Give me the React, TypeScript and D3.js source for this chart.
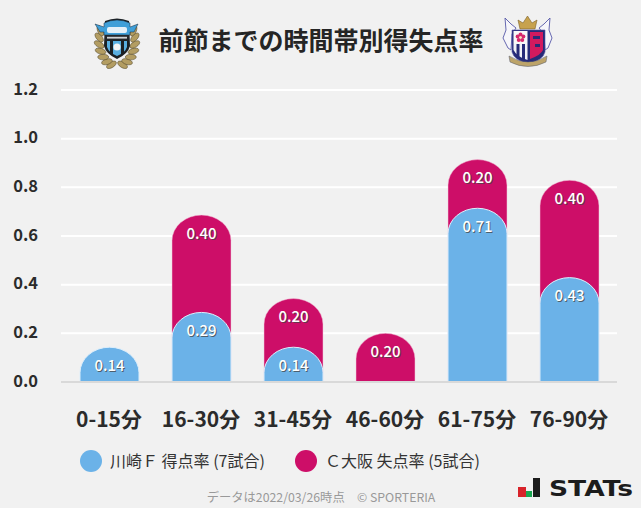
import React from "react";
import * as d3 from "d3";

const categories = ["0-15分", "16-30分", "31-45分", "46-60分", "61-75分", "76-90分"];
const scored = [0.143, 0.286, 0.143, 0, 0.714, 0.429];
const conceded = [0, 0.4, 0.2, 0.2, 0.2, 0.4];
const yTicks = [0, 0.2, 0.4, 0.6, 0.8, 1.0, 1.2];
const title = "前節までの時間帯別得失点率";
const legendLabels = ["川崎Ｆ 得点率 (7試合)", "Ｃ大阪 失点率 (5試合)"];
const footer = "データは2022/03/26時点　© SPORTERIA";

const BLUE = "#6bb2e8";
const RED = "#cd0e68";
const FONT = "'Noto Sans CJK JP','Noto Sans',sans-serif";

const y = d3.scaleLinear().domain([0, 1.2]).range([382, 90]);
const x = d3.scaleBand().domain(categories).range([61, 618]).paddingInner(33 / 92).paddingOuter(19 / 92);

function barPath(cx: number, w: number, top: number, bottom: number) {
  const rx = w / 2;
  const ry = Math.min(25.5, bottom - top);
  return `M${cx - rx},${bottom}V${top + ry}A${rx},${ry} 0 0 1 ${cx + rx},${top + ry}V${bottom}Z`;
}

function Label({ cx, py, v }: { cx: number; py: number; v: number }) {
  const s = v.toFixed(2);
  return (
    <g fontFamily={FONT} fontSize={15} fontWeight={500} textAnchor="middle">
      <text x={cx + 1} y={py + 1} fill="#444" opacity={0.75}>{s}</text>
      <text x={cx} y={py} fill="#fff">{s}</text>
    </g>
  );
}

const leafOffsets = [0, 1, 2, 3, 4, 5, 6];

function Frontale() {
  return (
    <g>
      {leafOffsets.map((k) => {
        const ang = ((108 + k * 16) * Math.PI) / 180;
        const cxL = 117 + Math.cos(ang) * 18;
        const cyL = 41 + Math.sin(ang) * 25;
        const cxR = 117 - Math.cos(ang) * 18;
        const deg = (ang * 180) / Math.PI;
        return (
          <g key={k} fill="#b39d62" stroke="#4f4426" strokeWidth={0.5}>
            <ellipse cx={cxL} cy={cyL} rx={5.5} ry={2.8} transform={`rotate(${deg + 40} ${cxL} ${cyL})`} />
            <ellipse cx={cxR} cy={cyL} rx={5.5} ry={2.8} transform={`rotate(${-deg - 40} ${cxR} ${cyL})`} />
          </g>
        );
      })}
      <path d="M105,21 Q117,16 129,21 L130,46 Q128,54 117,59 Q106,54 104,46Z" fill="#1b2024" />
      <path d="M95,24 L104,27 L104,23 Q117,17 130,23 L130,27 L138,24 L134,32 L130,32 L130,35 L104,35 L104,32 L100,32Z" fill="#3f9fd8" stroke="#1b2b3a" strokeWidth={0.5} />
      <rect x={107} y={27} width={20} height={6} rx={2} fill="#e4f0f8" />
      <rect x={105} y={35} width={24} height={5.5} fill="#23272b" />
      <rect x={107} y={36.8} width={20} height={1.8} fill="#cfd3d6" />
      <path d="M107,41 H127 V47 Q125,53 117,56 Q109,53 107,47Z" fill="#58aee0" />
      <rect x={110} y={41} width={3} height={13} fill="#1b2024" />
      <rect x={121} y={41} width={3} height={13} fill="#1b2024" />
      <circle cx={117} cy={47} r={3.6} fill="#f3f3f3" />
    </g>
  );
}

function Cerezo() {
  return (
    <g>
      <path d="M505,18 L511,24 L516,28 L512,34 L511,50 L508,48 L503,38 L506,30Z" fill="#f6f6fa" stroke="#5658a8" strokeWidth={0.9} />
      <path d="M550,18 L544,24 L539,28 L544,34 L545,50 L548,48 L552,38 L549,30Z" fill="#f6f6fa" stroke="#5658a8" strokeWidth={0.9} />
      <path d="M520,29 L518,20 L523,23 L527.5,16 L532,23 L537,20 L535,29Z" fill="#c7a24e" stroke="#7a6028" strokeWidth={0.6} />
      <path d="M512,30 H545 V52 Q543,60 528.5,64 Q514,60 512,52Z" fill="#272b78" stroke="#5658a8" strokeWidth={0.6} />
      <rect x={513.5} y={31} width={14} height={13} fill="#f8f8f8" />
      <path d="M530,32 H543 V50 Q541,55 530,59Z" fill="#d21a5e" />
      <rect x={533} y={36} width={7} height={3} fill="#272b78" />
      <rect x={535} y={44} width={5} height={3} fill="#272b78" />
      {[0, 1, 2, 3, 4].map((k) => (
        <circle key={k} cx={520.5 + 3 * Math.cos((k * 2 * Math.PI) / 5 - 1.57)} cy={37.5 + 3 * Math.sin((k * 2 * Math.PI) / 5 - 1.57)} r={2} fill="#d6296c" />
      ))}
      <circle cx={520.5} cy={37.5} r={1.1} fill="#f6e9a8" />
      <path d="M513.5,44 H527.5 V60 Q517,57 513.5,50Z" fill="#f2f2f6" />
      <rect x={516.5} y={44} width={3} height={14} fill="#272b78" />
      <rect x={522} y={44} width={3} height={16} fill="#272b78" />
      <path d="M509,56 Q528,68 547,56 L546,62 Q528,71 510,62Z" fill="#bda469" stroke="#555a70" strokeWidth={0.5} />
    </g>
  );
}

export default function App() {
  const w = x.bandwidth();
  return (
    <svg width={641} height={508} style={{ position: "fixed", left: 0, top: 0, background: "#f1f1f1" }}>
      <rect width={641} height={508} fill="#f1f1f1" />
      <Frontale />
      <Cerezo />
      <text x={321} y={50} textAnchor="middle" fontFamily={FONT} fontSize={25} fontWeight={700} fill="#252525">{title}</text>

      {yTicks.map((t) => (
        <g key={t}>
          {t > 0 && <line x1={61} x2={617} y1={y(t)} y2={y(t)} stroke="#fff" strokeWidth={2} />}
          <text x={38} y={y(t) + 4.6} textAnchor="end" fontFamily={FONT} fontSize={16.5} fontWeight={700} fill="#2b2b2b">{t.toFixed(1)}</text>
        </g>
      ))}

      {categories.map((c, i) => {
        const bx = x(c)!;
        const cx = bx + w / 2;
        const total = scored[i] + conceded[i];
        return (
          <g key={c}>
            {conceded[i] > 0 && (
              <path d={barPath(cx, w, y(total), y(0))} fill={RED} stroke="#f3c9dc" strokeWidth={0.5} />
            )}
            {scored[i] > 0 && (
              <path d={barPath(cx, w, y(scored[i]), y(0))} fill={BLUE} stroke="#dceefb" strokeWidth={1} />
            )}
            {conceded[i] > 0 && <Label cx={cx} py={y(total) + 23.5} v={conceded[i]} />}
            {scored[i] > 0 && <Label cx={cx} py={y(scored[i]) + 23.5} v={scored[i]} />}
            <text x={cx - 0.5} y={427} textAnchor="middle" fontFamily={FONT} fontSize={21} fontWeight={700} fill="#2b2b2b">{c}</text>
          </g>
        );
      })}
      <line x1={61} x2={617} y1={y(0)} y2={y(0)} stroke="#d9d9d9" strokeWidth={2} />

      <circle cx={91} cy={461} r={11} fill={BLUE} />
      <text x={110} y={466.5} fontFamily={FONT} fontSize={16} fill="#333">{legendLabels[0]}</text>
      <circle cx={306} cy={461} r={11} fill={RED} />
      <text x={325} y={466.5} fontFamily={FONT} fontSize={16} fill="#333">{legendLabels[1]}</text>

      <text x={321} y={502} textAnchor="middle" fontFamily={FONT} fontSize={12.3} fill="#999">{footer}</text>

      <g>
        <rect x={518} y={487} width={8} height={10} fill="#d8232a" />
        <rect x={526} y={491} width={6} height={6} fill="#1aa651" />
        <rect x={533} y={478} width={7} height={19} fill="#1c1c1c" />
        <text x={549} y={496} fontFamily="'DejaVu Sans',sans-serif" fontSize={21} fontWeight={700} fill="#1c1c1c" textLength={84} lengthAdjust="spacingAndGlyphs">STATs</text>
      </g>
    </svg>
  );
}
